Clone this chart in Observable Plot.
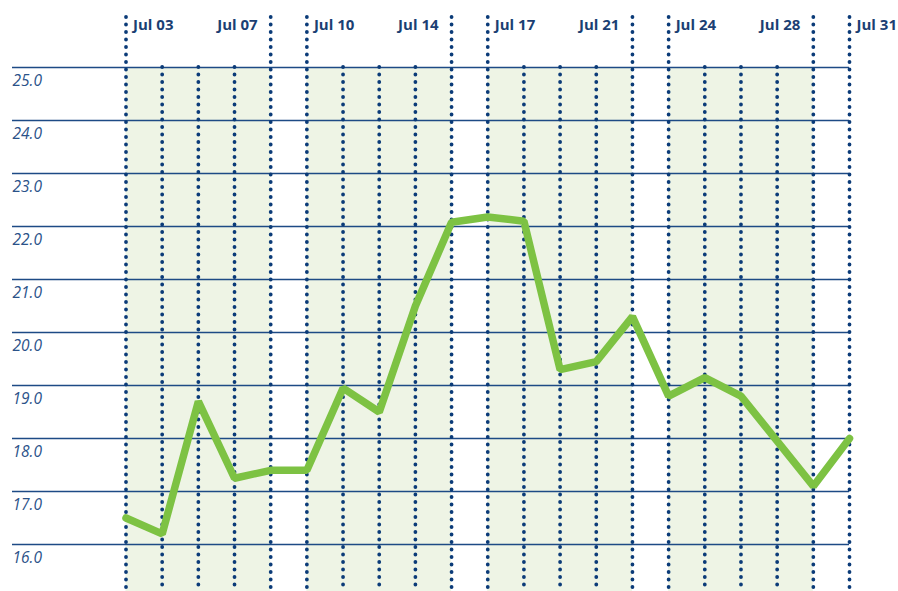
<!DOCTYPE html>
<html><head><meta charset="utf-8">
<script src="https://cdn.jsdelivr.net/npm/d3@7"></script>
<script src="https://cdn.jsdelivr.net/npm/@observablehq/plot@0.6"></script>
<style>body{margin:0;background:#fff}</style>
</head><body><div id="chart"></div>
<script>
const dates = ["Jul 03","Jul 04","Jul 05","Jul 06","Jul 07","Jul 10","Jul 11","Jul 12","Jul 13","Jul 14","Jul 17","Jul 18","Jul 19","Jul 20","Jul 21","Jul 24","Jul 25","Jul 26","Jul 27","Jul 28","Jul 31"];
const values = [16.5,16.2,18.7,17.25,17.4,17.4,18.95,18.5,20.5,22.08,22.18,22.1,19.3,19.45,20.3,18.8,19.15,18.8,17.95,17.1,18.0];
const weekStarts = ["Jul 03","Jul 10","Jul 17","Jul 24","Jul 31"];
const weekEnds = ["Jul 07","Jul 14","Jul 21","Jul 28"];
const yTicks = [16,17,18,19,20,21,22,23,24,25];

const idx = d => dates.indexOf(d);
const data = dates.map((d, i) => ({i, date: d, value: values[i]}));
const boundarySet = new Set([...weekStarts, ...weekEnds]);
const boundaries = dates.filter(d => boundarySet.has(d)).map(idx);
const inner = dates.filter(d => !boundarySet.has(d)).map(idx);
const weeks = weekEnds.map((e, k) => ({x1: idx(weekStarts[k]), x2: idx(e)}));

const navy = "#0b3b78";
const chart = Plot.plot({
  width: 898, height: 591,
  marginLeft: 12, marginRight: 49, marginTop: 17, marginBottom: 0,
  x: {type: "linear", domain: [0, dates.length - 1], range: [125.5, 849], axis: null},
  y: {domain: [16, 25], range: [544, 67], axis: null},
  style: {fontFamily: "'Open Sans', sans-serif", background: "white"},
  marks: [
    Plot.rect(weeks, {x1: "x1", x2: "x2", fill: "#eef4e5", insetTop: 50}),
    Plot.ruleY(yTicks, {stroke: "#1d4a85", strokeWidth: 1.6}),
    Plot.ruleX(inner, {stroke: navy, strokeWidth: 3.8, strokeDasharray: "0 7.5", strokeLinecap: "round", insetTop: 50}),
    Plot.ruleX(boundaries, {stroke: navy, strokeWidth: 3.8, strokeDasharray: "0 7.5", strokeLinecap: "round"}),
    Plot.text(weekStarts, {x: d => idx(d), text: d => d, frameAnchor: "top", lineAnchor: "middle", dy: 8, dx: 7, textAnchor: "start", fontWeight: 700, fontSize: 15, fill: "#1b3f73"}),
    Plot.text(weekEnds, {x: d => idx(d), text: d => d, frameAnchor: "top", lineAnchor: "middle", dy: 8, dx: -13, textAnchor: "end", fontWeight: 700, fontSize: 15, fill: "#1b3f73"}),
    Plot.text(yTicks, {y: d => d, text: d => d.toFixed(1), frameAnchor: "left", lineAnchor: "middle", textAnchor: "start", dy: 13.5, fontStyle: "italic", fontSize: 15.5, fill: "#2b5289"}),
    Plot.line(data, {x: "i", y: "value", stroke: "#7dc243", strokeWidth: 7.5, strokeLinejoin: "miter"})
  ]
});
document.getElementById("chart").appendChild(chart);
</script>
</body></html>
